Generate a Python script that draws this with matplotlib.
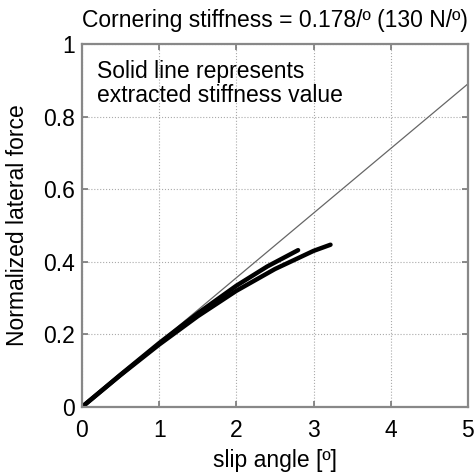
import matplotlib
matplotlib.use("Agg")
import matplotlib.pyplot as plt
import numpy as np

plt.rcParams['font.family'] = ['Liberation Sans', 'DejaVu Sans']

# Measured lateral force curves (normalized) vs. slip angle
slip_a = [0.0, 0.5, 1.0, 1.5, 2.0, 2.4, 2.8]
force_a = [0.0, 0.089, 0.176, 0.258, 0.334, 0.387, 0.432]
slip_b = [0.0, 0.5, 1.0, 1.5, 2.0, 2.5, 3.0, 3.22]
force_b = [0.0, 0.088, 0.172, 0.250, 0.320, 0.380, 0.430, 0.447]

# Extracted cornering stiffness (per degree)
stiffness = 0.178
fit_x = [0.0, 5.0]

FS = 16.5

fig = plt.figure(figsize=(4.75, 4.76), dpi=100)
ax = fig.add_axes([0.1726, 0.145, 0.8124, 0.7626])

ax.plot(fit_x, [stiffness * x for x in fit_x], color='#666666', lw=0.9)
ax.plot(slip_a, force_a, color='black', lw=3.2, solid_capstyle='round')
ax.plot(slip_b, force_b, color='black', lw=3.2, solid_capstyle='round')

ax.set_xlim(0, 5)
ax.set_ylim(0, 1)
ax.set_xticks([0, 1, 2, 3, 4, 5])
ax.set_yticks([0, 0.2, 0.4, 0.6, 0.8, 1])
ax.set_yticklabels(['0', '0.2', '0.4', '0.6', '0.8', '1'])
ax.grid(True, linestyle=':', color='#aaaaaa', lw=0.8)
ax.tick_params(direction='in', labelsize=FS, top=True, right=True, length=4,
               color='#777777', width=1.2)
ax.tick_params(axis='x', pad=9)
ax.tick_params(axis='y', pad=5)
for s in ax.spines.values():
    s.set_color('#888888')
    s.set_linewidth(1.6)

ax.set_xlabel('slip angle [º]', fontsize=FS, labelpad=5)
ax.set_ylabel('Normalized lateral force', fontsize=FS, labelpad=10)
ax.set_title('Cornering stiffness = 0.178/º (130 N/º)', fontsize=FS, loc='right', pad=12)
ax.text(0.04, 0.955, 'Solid line represents\nextracted stiffness value', fontsize=FS,
        transform=ax.transAxes, ha='left', va='top', linespacing=1.05)

fig.savefig('out.png', dpi=100)
